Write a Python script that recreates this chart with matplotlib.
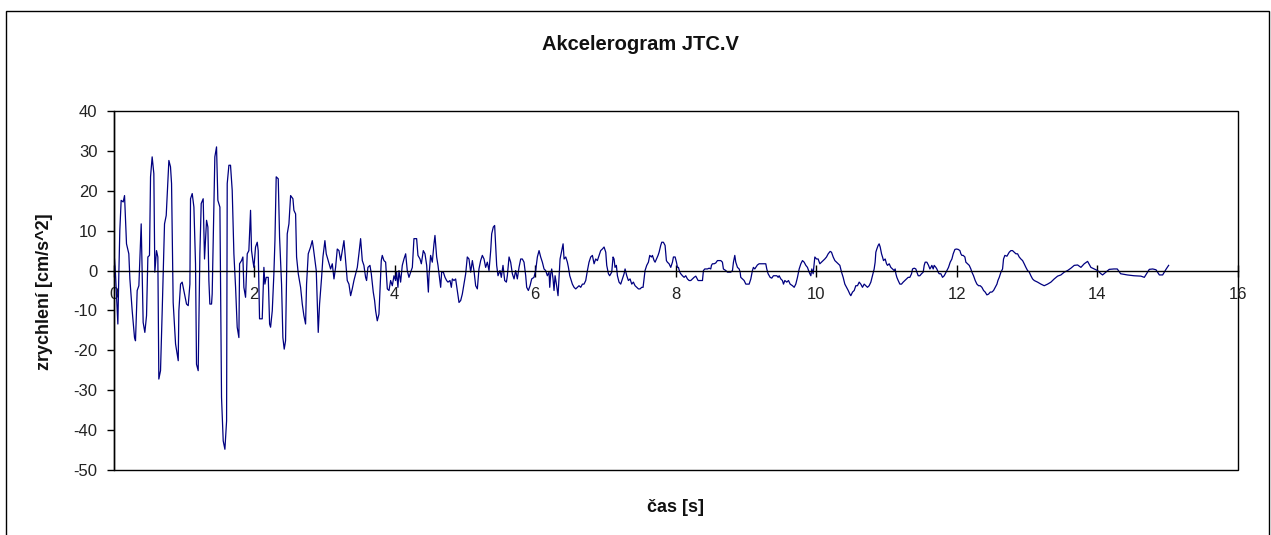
import matplotlib
matplotlib.use("Agg")
import matplotlib.pyplot as plt
from matplotlib.patches import Rectangle

# ---- data (time [s], acceleration [cm/s^2]) ----
time_s = [
    0.014, 0.028, 0.062, 0.076, 0.090, 0.109, 0.138, 0.157, 0.185, 0.218,
    0.233, 0.266, 0.299, 0.313, 0.337, 0.361, 0.394, 0.408, 0.422, 0.446,
    0.470, 0.489, 0.512, 0.527, 0.550, 0.574, 0.588, 0.612, 0.631, 0.645,
    0.669, 0.693, 0.726, 0.750, 0.788, 0.811, 0.826, 0.849, 0.883, 0.921,
    0.930, 0.954, 0.977, 1.001, 1.039, 1.063, 1.087, 1.096, 1.120, 1.144,
    1.167, 1.181, 1.205, 1.229, 1.248, 1.276, 1.295, 1.324, 1.343, 1.357,
    1.371, 1.395, 1.404, 1.428, 1.442, 1.466, 1.485, 1.514, 1.537, 1.561,
    1.585, 1.609, 1.618, 1.642, 1.665, 1.689, 1.713, 1.737, 1.760, 1.784,
    1.794, 1.822, 1.841, 1.855, 1.879, 1.903, 1.926, 1.950, 1.964, 1.983,
    1.998, 2.021, 2.045, 2.059, 2.078, 2.116, 2.140, 2.154, 2.173, 2.202,
    2.221, 2.235, 2.259, 2.282, 2.297, 2.315, 2.344, 2.363, 2.391, 2.410,
    2.429, 2.448, 2.472, 2.496, 2.520, 2.553, 2.567, 2.591, 2.605, 2.629,
    2.662, 2.686, 2.709, 2.733, 2.747, 2.771, 2.804, 2.828, 2.842, 2.866,
    2.885, 2.913, 2.932, 2.961, 2.980, 3.008, 3.027, 3.055, 3.089, 3.113,
    3.137, 3.160, 3.184, 3.208, 3.232, 3.255, 3.279, 3.302, 3.326, 3.350,
    3.374, 3.397, 3.421, 3.445, 3.469, 3.492, 3.516,
    3.540, 3.563, 3.587, 3.601, 3.620, 3.649, 3.668, 3.696, 3.715, 3.730,
    3.753, 3.777, 3.791, 3.810, 3.824, 3.848, 3.872, 3.896, 3.920, 3.943,
    3.967, 3.991, 4.014, 4.028, 4.047, 4.062, 4.085, 4.109, 4.133, 4.157,
    4.180, 4.204, 4.228, 4.252, 4.275, 4.313, 4.332, 4.361, 4.380, 4.408,
    4.432, 4.456, 4.480, 4.489, 4.512, 4.536, 4.560, 4.574, 4.598, 4.617,
    4.631, 4.655, 4.669, 4.693, 4.717, 4.740, 4.759, 4.788, 4.807, 4.821,
    4.845, 4.868, 4.892, 4.916, 4.940, 4.963, 4.987, 5.011, 5.034, 5.058,
    5.082, 5.106, 5.129, 5.153, 5.177, 5.200, 5.224, 5.248, 5.272, 5.295,
    5.319, 5.343, 5.367, 5.381, 5.404, 5.423, 5.438, 5.452, 5.471, 5.499,
    5.518, 5.542, 5.566, 5.590, 5.604, 5.628, 5.651, 5.675, 5.699, 5.722,
    5.746, 5.770, 5.794, 5.817, 5.841, 5.865, 5.879, 5.903, 5.927, 5.950,
    5.983, 6.007, 6.031, 6.055,
    6.078, 6.102, 6.126, 6.149, 6.173, 6.197, 6.207, 6.221, 6.235, 6.254,
    6.268, 6.283, 6.302, 6.325, 6.340, 6.354, 6.373, 6.397, 6.411, 6.435,
    6.458, 6.473, 6.492, 6.506, 6.529, 6.553, 6.577, 6.600, 6.624, 6.648,
    6.672, 6.695, 6.719, 6.743, 6.766, 6.790, 6.814, 6.838, 6.861, 6.885,
    6.909, 6.932, 6.956, 6.980, 7.004, 7.018, 7.042, 7.060, 7.089, 7.108,
    7.122, 7.136, 7.155, 7.170, 7.193, 7.217, 7.241, 7.265, 7.279, 7.303,
    7.326, 7.350, 7.374, 7.397, 7.421, 7.445, 7.469, 7.492, 7.516, 7.535,
    7.549, 7.563, 7.587, 7.611, 7.630, 7.654, 7.668, 7.692, 7.706, 7.725,
    7.748, 7.763, 7.786, 7.801, 7.824, 7.848, 7.867, 7.881, 7.905, 7.929,
    7.953, 7.967, 7.991, 8.010, 8.024, 8.038, 8.057, 8.071, 8.095, 8.119,
    8.142, 8.166, 8.190, 8.214, 8.237, 8.261,
    8.285, 8.318, 8.356, 8.380, 8.394, 8.413, 8.451, 8.475, 8.498, 8.508,
    8.522, 8.546, 8.569, 8.593, 8.617, 8.641, 8.664, 8.678, 8.712, 8.736,
    8.783, 8.807, 8.821, 8.840, 8.854, 8.878, 8.902, 8.916, 8.925, 8.949,
    8.973, 8.997, 9.020, 9.044, 9.068, 9.091, 9.105, 9.125, 9.139, 9.162,
    9.186, 9.234, 9.281, 9.295, 9.314, 9.343, 9.366, 9.390, 9.438, 9.457,
    9.471, 9.495, 9.518, 9.533, 9.552, 9.580, 9.604, 9.628, 9.661, 9.685,
    9.708, 9.732, 9.756, 9.780, 9.803, 9.827, 9.851, 9.874, 9.898, 9.922,
    9.936, 9.955, 9.970, 9.979, 10.003, 10.026, 10.050, 10.074, 10.098, 10.121,
    10.145, 10.169, 10.197, 10.216, 10.240, 10.264, 10.287, 10.311, 10.335, 10.359,
    10.382, 10.406, 10.430, 10.454, 10.477,
    10.491, 10.515, 10.539, 10.562, 10.586, 10.610, 10.633, 10.657, 10.681, 10.705,
    10.728, 10.752, 10.776, 10.799, 10.823, 10.837, 10.847, 10.861, 10.880, 10.894,
    10.909, 10.928, 10.942, 10.956, 10.980, 10.999, 11.013, 11.037, 11.060, 11.084,
    11.108, 11.122, 11.132, 11.146, 11.165, 11.189, 11.212, 11.236, 11.260, 11.283,
    11.307, 11.331, 11.355, 11.369, 11.393, 11.416, 11.431, 11.450, 11.473, 11.497,
    11.521, 11.535, 11.549, 11.573, 11.597, 11.616, 11.630, 11.644, 11.663, 11.677,
    11.701, 11.715, 11.734, 11.748, 11.772, 11.796, 11.820, 11.834, 11.858, 11.881,
    11.905, 11.929, 11.948, 11.972, 11.995, 12.019, 12.043, 12.057, 12.071, 12.090,
    12.114, 12.128, 12.152, 12.176, 12.199, 12.214, 12.237, 12.261, 12.285, 12.309,
    12.332, 12.356, 12.380, 12.403, 12.427, 12.451, 12.475, 12.498, 12.522, 12.546,
    12.570, 12.584, 12.603, 12.627, 12.650, 12.664, 12.683,
    12.712, 12.745, 12.769, 12.792, 12.816, 12.840, 12.864, 12.887, 12.911, 12.935,
    12.958, 12.982, 13.006, 13.030, 13.053, 13.077, 13.101, 13.148, 13.196, 13.243,
    13.291, 13.338, 13.385, 13.433, 13.480, 13.528, 13.575, 13.623, 13.670, 13.718,
    13.765, 13.812, 13.860, 13.907, 13.955, 14.002, 14.050, 14.073, 14.121, 14.168,
    14.235, 14.282, 14.330, 14.425, 14.520, 14.619, 14.667, 14.714, 14.738, 14.786,
    14.833, 14.881, 14.928, 14.975, 15.013,
]

accel_cms2 = [
    2.9, -0.8, -13.4, -0.8, 10.1, 17.6, 17.2, 18.8, 6.7, 4.2,
    -2.1, -10.1, -16.8, -17.6, -5.0, -3.8, 11.7, -0.8, -13.0, -15.5,
    -11.3, 3.4, 3.8, 23.5, 28.5, 24.3, -0.4, 5.0, 3.4, -27.2,
    -25.1, -10.1, 11.7, 13.8, 27.6, 26.0, 21.8, -8.0, -18.4, -22.6,
    -10.1, -3.4, -2.9, -5.0, -8.4, -8.8, -3.4, 18.0, 19.3, 15.9,
    1.7, -23.5, -25.1, 4.2, 16.8, 18.0, 2.9, 12.6, 10.9, -2.5,
    -8.4, -8.4, -5.9, 15.9, 28.5, 31.0, 17.6, 15.9, -31.8, -42.7,
    -44.8, -37.7, 21.8, 26.4, 26.4, 20.1, 4.2, -4.2, -14.2, -16.8,
    1.7, 2.5, 3.4, -4.2, -6.7, 4.2, 5.0, 15.1, 5.0, 2.5,
    0.8, 5.9, 7.1, 5.0, -12.1, -12.1, 0.8, -3.4, -1.7, -1.7,
    -13.4, -14.2, -10.1, -0.8, 7.5, 23.5, 23.0, 8.4, -3.4, -16.8,
    -19.7, -17.6, 9.2, 11.7, 18.8, 18.0, 15.1, 14.2, 3.4, -0.8,
    -4.2, -8.4, -11.3, -13.4, -3.4, 4.2, 5.9, 7.5, 5.9, 2.5,
    0.0, -15.5, -8.4, -1.7, 3.4, 7.5, 4.2, 2.5, 0.4, 1.7,
    -2.1, 0.8, 5.4, 5.0, 2.5, 5.0, 7.5, 2.5, -2.5, -3.4,
    -6.3, -4.6, -2.5, -0.8, 0.8, 4.2, 8.0,
    2.5, 1.3, -1.7, -2.5, 0.8, 1.3, -0.8, -5.4, -7.5, -10.1,
    -12.6, -10.9, -5.0, 2.5, 3.8, 2.5, 2.1, -4.6, -5.0, -2.5,
    -3.8, -1.3, -2.5, -0.4, -4.2, 0.0, -2.9, 1.3, 2.9, 4.2,
    0.0, -1.7, -0.4, 0.8, 8.0, 8.0, 3.8, 2.9, 1.7, 5.0,
    4.2, 1.3, -5.4, -1.3, 3.8, 2.1, 6.7, 8.8, 3.4, 1.3,
    -0.8, -4.2, -0.4, -0.4, -1.7, -2.5, -2.9, -2.5, -4.2, -2.1,
    -2.5, -2.1, -5.0, -8.0, -7.5, -5.9, -3.4, -0.8, 3.4, 2.9,
    -0.4, 2.5, 0.0, -3.8, -4.6, 0.4, 2.5, 3.8, 2.9, 0.8,
    2.1, 0.0, 5.0, 9.2, 10.9, 11.3, 5.9, 1.3, -1.3, 0.0,
    -1.7, 1.3, -2.5, -2.9, -1.3, 3.4, 2.1, -0.8, -2.1, 0.0,
    -2.1, 0.8, 2.9, 2.9, 2.1, -1.3, -4.2, -5.0, -3.8, -2.1,
    -1.7, 0.0, 3.4, 5.0,
    3.4, 2.1, 0.4, 0.0, -1.3, -0.4, -4.2, -0.8, 0.4, -2.1,
    -5.0, -1.3, -3.4, -6.3, -1.3, 2.9, 4.6, 6.7, 2.9, 3.4,
    2.1, 0.8, -1.3, -2.1, -3.4, -4.2, -4.6, -4.2, -3.8, -4.2,
    -3.4, -3.4, -2.5, 0.0, 2.1, 3.4, 3.8, 1.7, 2.9, 2.5,
    3.8, 5.0, 5.4, 5.9, 4.6, 1.3, -0.8, -1.3, -0.4, 3.4,
    2.9, 0.8, 1.3, -1.3, -2.9, -3.4, -2.1, -0.8, 0.4, -1.3,
    -2.5, -2.1, -3.4, -2.9, -3.8, -4.2, -4.6, -4.6, -4.2, -4.2,
    -2.1, 0.0, 1.3, 2.1, 3.8, 3.4, 3.8, 2.5, 2.1, 2.9,
    3.8, 4.6, 6.3, 7.1, 7.1, 6.3, 2.5, 2.1, 1.7, 0.8,
    2.1, 3.4, 3.4, 2.1, 0.8, 0.8, -0.4, -0.8, -1.3, -1.7,
    -1.3, -2.1, -2.5, -2.5, -2.1, -1.7,
    -1.4, -2.5, -2.5, -2.5, 0.0, 0.4, 0.4, 0.6, 0.4, 1.3,
    1.7, 1.7, 1.9, 2.5, 2.5, 2.5, 2.1, 0.4, 0.0, -0.4,
    -0.4, 0.0, 2.1, 3.8, 2.1, 0.8, 0.4, -0.4, -1.7, -2.1,
    -2.5, -3.4, -3.4, -3.4, -2.1, 0.0, 0.8, 0.4, 0.8, 1.4,
    1.7, 1.7, 1.7, 0.4, -0.8, -1.7, -1.9, -1.3, -1.3, -1.7,
    -1.3, -2.1, -2.5, -3.4, -2.5, -2.9, -2.5, -3.4, -3.8, -4.2,
    -3.4, -1.7, 0.4, 1.7, 2.5, 2.1, 1.3, 0.8, -0.4, -1.3,
    0.4, -0.8, 1.7, 3.4, 2.9, 2.9, 1.7, 2.1, 2.5, 2.9,
    3.4, 4.2, 4.8, 4.6, 3.4, 2.5, 2.1, 1.7, 1.3, -0.4,
    -1.7, -3.4, -4.2, -5.0, -5.9,
    -6.3, -5.4, -5.0, -3.8, -3.8, -2.9, -3.4, -4.2, -3.4, -3.8,
    -4.2, -3.8, -2.9, -1.3, 0.4, 2.1, 4.6, 5.4, 6.3, 6.7,
    5.9, 4.2, 3.4, 2.5, 2.9, 1.7, 1.3, 1.7, 0.8, 0.4,
    0.0, 0.4, -0.8, -1.7, -2.5, -3.4, -3.4, -2.9, -2.5, -2.1,
    -1.7, -1.7, -0.8, 0.4, 0.6, 0.4, -0.4, -1.3, -1.3, -0.8,
    -0.4, 1.3, 2.1, 2.1, 1.3, 0.4, 0.8, 1.3, 0.4, 1.3,
    0.8, 0.4, -0.4, -0.8, -0.8, -1.7, -1.3, -0.8, 0.0, 0.8,
    2.1, 2.9, 4.2, 5.3, 5.4, 5.3, 5.0, 4.2, 3.8, 3.8,
    3.4, 2.1, 1.7, 1.3, 0.4, -0.4, -1.3, -2.5, -3.4, -3.8,
    -3.8, -4.2, -5.0, -5.4, -6.1, -5.9, -5.4, -5.4, -5.0, -4.2,
    -3.4, -2.5, -1.7, -0.4, 0.4, 2.9, 3.8,
    3.6, 4.6, 5.0, 5.0, 4.6, 4.2, 4.2, 3.4, 2.9, 2.5,
    1.7, 0.8, 0.0, -0.4, -1.3, -2.1, -2.5, -2.9, -3.4, -3.8,
    -3.4, -2.9, -2.1, -1.4, -1.1, -0.4, 0.0, 0.6, 1.3, 1.4,
    0.8, 1.7, 2.3, 0.8, 0.4, 0.0, -0.8, -1.1, -0.4, 0.3,
    0.4, 0.4, -0.8, -1.1, -1.3, -1.4, -1.7, -0.4, 0.3, 0.4,
    0.2, -1.1, -1.1, 0.3, 1.3,
]

x_ticks = [0, 2, 4, 6, 8, 10, 12, 14, 16]
y_ticks = [-50, -40, -30, -20, -10, 0, 10, 20, 30, 40]
title_text = "Akcelerogram JTC.V"
x_label = "čas [s]"
y_label = "zrychlení [cm/s^2]"

plt.rcParams['font.family'] = ['Liberation Sans', 'DejaVu Sans']

fig = plt.figure(figsize=(12.71, 5.35), dpi=100)
fig.patch.set_facecolor('white')

# outer chart-area border
fig.add_artist(Rectangle((5.5 / 1271, -0.05), (1268.5 - 5.5) / 1271, 1.05 - 10.5 / 535,
                         transform=fig.transFigure, fill=False, ec='black', lw=1.0))

ax = fig.add_axes([113.5 / 1271, 1 - 470 / 535, (1238 - 113.5) / 1271, (470 - 111) / 535])

ax.plot(time_s, accel_cms2, color='#000080', lw=0.9)

ax.set_xlim(0, 16)
ax.set_ylim(-50, 40)
ax.set_xticks(x_ticks)
ax.set_yticks(y_ticks)
ax.set_xticklabels([str(v) for v in x_ticks])
ax.set_yticklabels([str(v) for v in y_ticks])

# x axis crosses at zero
ax.spines['bottom'].set_position(('data', 0))
ax.spines['bottom'].set_linewidth(1.0)
ax.spines['top'].set_visible(False)
ax.spines['right'].set_visible(False)
ax.spines['left'].set_linewidth(1.0)
ax.add_patch(Rectangle((0, 0), 1, 1, transform=ax.transAxes, fill=False,
                       ec='black', lw=1.0, clip_on=False))

ax.tick_params(axis='x', direction='inout', length=8, width=1, pad=8,
               labelsize=12, colors='black', labelcolor='#222222')
ax.tick_params(axis='y', direction='out', length=5, width=1, pad=6.5,
               labelsize=12, colors='black', labelcolor='#222222')

fig.text(640 / 1271, 1 - 44 / 535, title_text, ha='center', va='center',
         fontsize=14.5, fontweight='bold', color='#111111')
fig.text(675 / 1271, 1 - 507 / 535, x_label, ha='center', va='center',
         fontsize=13, fontweight='bold', color='#111111')
fig.text(45 / 1271, 1 - 292 / 535, y_label, ha='center', va='center', rotation=90,
         fontsize=13, fontweight='bold', color='#111111')

fig.savefig('out.png', dpi=100)
